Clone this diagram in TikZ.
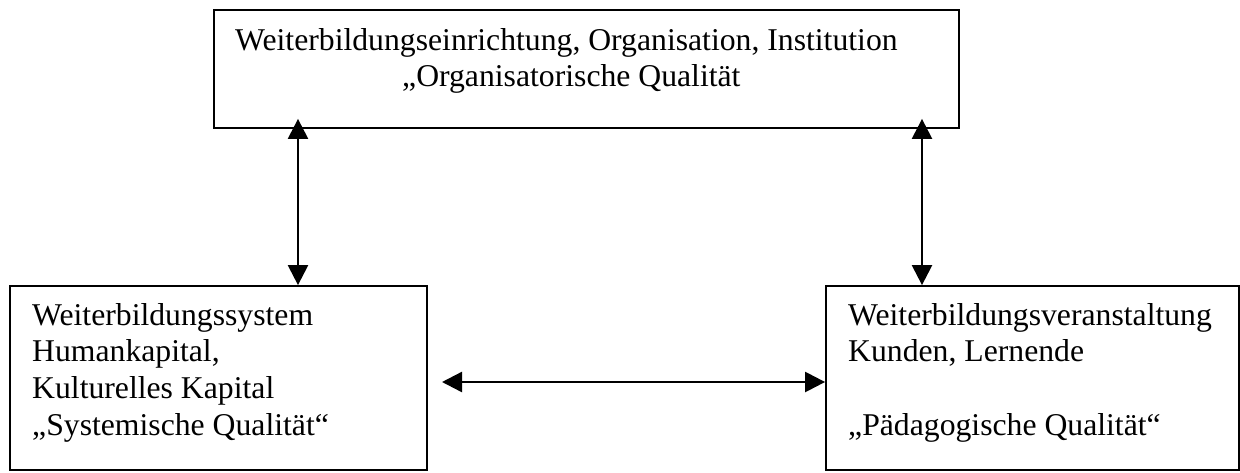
\documentclass[tikz,border=0pt]{standalone}
\usepackage{fontspec}
\setmainfont{Liberation Serif}
\usetikzlibrary{arrows.meta}
\begin{document}
\begin{tikzpicture}[x=1pt,y=-1pt,
  box/.style={draw=black,line width=1.8pt,rectangle,inner sep=0pt},
  txt/.style={inner sep=0pt,anchor=base west,align=left,font=\fontsize{31.7}{36.7}\selectfont},
  dbl/.style={line width=2.4pt,{Triangle[length=20pt,width=20pt]}-{Triangle[length=20pt,width=20pt]}}]
\useasboundingbox (0,0) rectangle (1240,472);
% boxes
\node[box,minimum width=745pt,minimum height=118pt] (top) at (586.5,69) {};
\node[box,minimum width=417pt,minimum height=184pt] (left) at (218.5,378) {};
\node[box,minimum width=413pt,minimum height=184pt] (right) at (1032.5,378) {};
% texts (anchor = baseline of the last line)
\node[txt] (ttop) at (235,86.7) {Weiterbildungseinrichtung, Organisation, Institution\\\hspace*{167pt}„Organisatorische Qualität};
\node[txt] (tleft) at (32,435.1) {Weiterbildungssystem\\Humankapital,\\Kulturelles Kapital\\„Systemische Qualität“};
\node[txt] (tright) at (848,435.1) {Weiterbildungsveranstaltung\\Kunden, Lernende\\\mbox{}\\„Pädagogische Qualität“};
% connectors
\coordinate (cl) at (298,0);
\coordinate (cr) at (922,0);
\coordinate (ch) at (442,382);
\draw[dbl,shorten <=-10pt] (cl |- top.south) -- (cl |- left.north);
\draw[dbl,shorten <=-10pt] (cr |- top.south) -- (cr |- right.north);
\draw[dbl] (ch) -- (right.west |- ch);
\end{tikzpicture}
\end{document}
